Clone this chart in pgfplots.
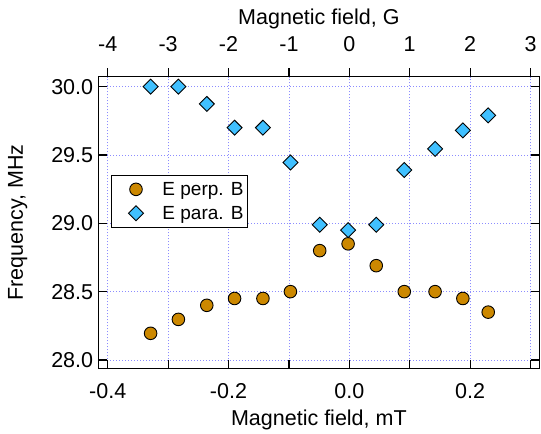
\documentclass[border=0pt]{standalone}
\usepackage{fontspec}
\setmainfont{Liberation Sans}
\usepackage{pgfplots}
\pgfplotsset{compat=1.18}
\definecolor{gridc}{RGB}{140,140,255}
\definecolor{orng}{RGB}{204,136,0}
\definecolor{skyb}{RGB}{64,192,255}
\pgfplotsset{
  every axis plot/.append style={
    legend image code/.code={\path (-8bp,0bp) (24bp,0bp); \draw[#1] plot coordinates {(12bp,0bp)};}},
  commonax/.style={
    scale only axis, width=441.2bp, height=291.6bp,
    at={(0,0)}, anchor=south west,
    ymin=27.939, ymax=30.073,
    axis line style={line width=1.2bp},
    major tick length=8.5bp,
    every tick/.style={line width=1.2bp, black},
  }
}
\begin{document}
\begin{tikzpicture}[font=\fontsize{21.5bp}{25bp}\selectfont]
\begin{axis}[commonax,
  xmin=-0.4156, xmax=0.3149,
  xtick={-0.4,-0.3,-0.2,-0.1,0,0.1,0.2,0.3},
  xticklabels={-0.4,,-0.2,,0.0,,0.2,},
  ytick={28,28.5,29,29.5,30},
  yticklabels={28.0,28.5,29.0,29.5,30.0},
  xtick pos=left, ytick pos=both, tick align=inside,
  grid=major,
  major grid style={gridc, line width=0.8bp, dash pattern=on 1bp off 2bp},
  xticklabel style={anchor=north, inner sep=0pt, yshift=-14.7bp},
  yticklabel style={anchor=east, inner sep=0pt, xshift=-5bp},
  xlabel={Magnetic field, mT},
  xlabel style={at={(axis description cs:0.5,-0.1972)}, anchor=base, inner sep=0pt},
  ylabel={Frequency, MHz},
  ylabel style={at={(axis description cs:-0.1711,0.5)}, anchor=base, inner sep=0pt},
  legend style={at={(axis description cs:0.02878,0.6629)}, anchor=north west,
    draw=black, line width=1bp, inner xsep=4bp, inner ysep=4.85bp,
    row sep=6bp, column sep=14bp,
    font=\fontsize{19bp}{22bp}\selectfont,
    nodes={inner sep=0pt, text height=15bp, text depth=3bp}},
  legend cell align=left,
]
\addplot[only marks, mark=*, mark size=6.3bp,
  mark options={fill=orng, draw=black, line width=0.9bp}]
coordinates {
(-0.329,28.195) (-0.283,28.297) (-0.236,28.40) (-0.190,28.45) (-0.143,28.45)
(-0.0975,28.50) (-0.049,28.80) (-0.002,28.85) (0.0446,28.69) (0.091,28.50)
(0.142,28.50) (0.188,28.45) (0.230,28.35)
};
\addlegendentry{E perp. B}
\addplot[only marks, mark=square*, mark size=5.3bp,
  mark options={fill=skyb, draw=black, line width=0.9bp, rotate=45}]
coordinates {
(-0.329,30.0) (-0.283,30.0) (-0.236,29.874) (-0.190,29.70) (-0.143,29.70)
(-0.0975,29.445) (-0.049,28.99) (-0.002,28.95) (0.0446,28.99) (0.091,29.39)
(0.142,29.545) (0.188,29.68) (0.230,29.79)
};
\addlegendentry{E para. B}
\end{axis}
\begin{axis}[commonax,
  xmin=-4.156, xmax=3.149,
  axis x line*=top, axis y line=none,
  xtick={-4,-3,-2,-1,0,1,2,3},
  xticklabels={-4,-3,-2,-1,0,1,2,3},
  tick align=outside,
  xticklabel style={anchor=south, inner sep=0pt, yshift=16.1bp},
  xlabel={Magnetic field, G},
  xlabel style={at={(axis description cs:0.5,1.179)}, anchor=base, inner sep=0pt},
]
\end{axis}
\pgfresetboundingbox
\path[use as bounding box] (-98.3bp,-65.7bp) rectangle (442.7bp,368.3bp);
\end{tikzpicture}
\end{document}
